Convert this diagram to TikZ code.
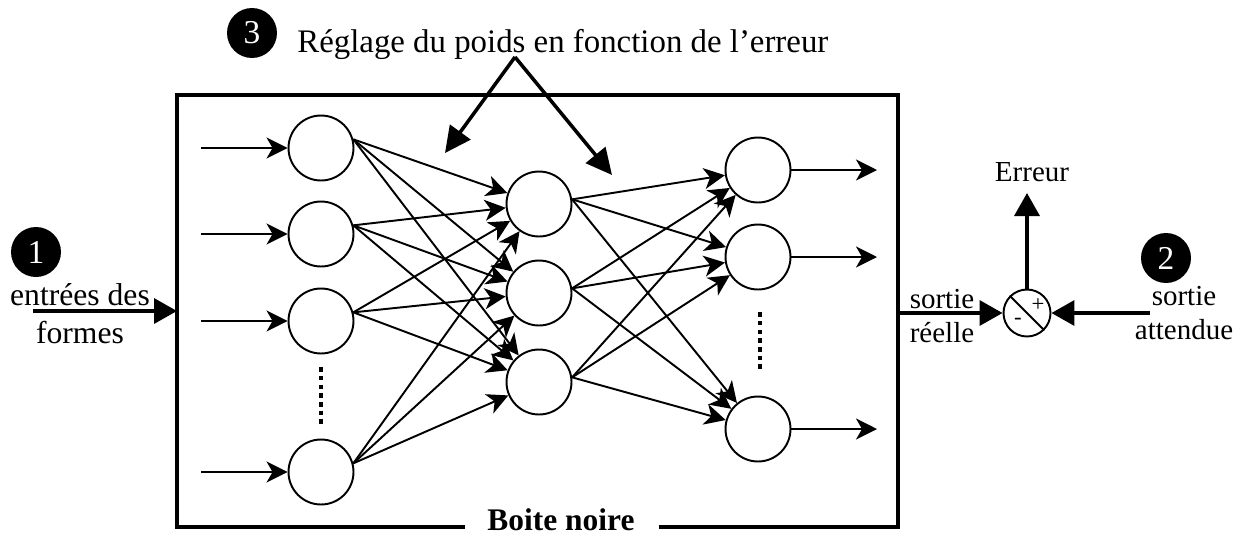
\documentclass[tikz,border=0pt]{standalone}
\usepackage{fontspec}
\setmainfont{Liberation Serif}
\usetikzlibrary{arrows.meta}

\begin{document}
\begin{tikzpicture}[x=0.02cm,y=-0.02cm,
	>={Stealth[length=0.42cm,width=0.42cm,inset=0.12cm]},
	neuron/.style={circle,draw,line width=1.1pt,minimum size=1.3cm,inner sep=0pt},
	fleche/.style={->,line width=1.1pt},
	grosse/.style={-{Triangle[length=0.46cm,width=0.5cm]},line width=2pt},
	puce/.style={circle,fill=black,text=white,minimum size=1cm,inner sep=0pt,font=\fontsize{19}{19}\selectfont},
	pointilles/.style={line width=0.08cm,dash pattern=on 0.09cm off 0.085cm},
	etiquette/.style={align=center,inner sep=0pt,font=\fontsize{16.5}{19}\selectfont}]
	\useasboundingbox (0,0) rectangle (1248,535);
	% boite noire
	\draw[line width=0.08cm] (465,527) -- (177,527) -- (177,95) -- (898,95) -- (898,527) -- (659,527);
	\node[anchor=base,inner sep=0pt,font=\bfseries\fontsize{17.9}{20}\selectfont] (bn) at (561,530) {Boite noire};
	% couche d'entree
	\foreach \n/\y in {1/148,2/234,3/321,4/472}{
		\node[neuron] (e\n) at (321,\y) {};
		\coordinate (x\n) at (201,\y);
		\draw[fleche] (x\n) -- (e\n);
	}
	\draw[pointilles] (321,367) -- (321,428);
	% couche cachee
	\foreach \n/\y in {1/204,2/293,3/382}
		\node[neuron] (c\n) at (539,\y) {};
	% couche de sortie
	\foreach \n/\y in {1/170,2/257,3/429}{
		\node[neuron] (s\n) at (758,\y) {};
		\coordinate (y\n) at (877,\y);
		\draw[fleche] (s\n) -- (y\n);
	}
	\draw[pointilles] (760,312) -- (760,373);
	% poids
	\foreach \i in {1,...,4}
		\foreach \j in {1,2,3}
			\draw[fleche] (e\i.15) -- (c\j);
	\foreach \i in {1,2,3}
		\foreach \j in {1,2,3}
			\draw[fleche] (c\i.8) -- (s\j);
	% comparateur
	\node[circle,draw,line width=1.1pt,minimum size=0.94cm,inner sep=0pt] (som) at (1027,313) {};
	\draw[line width=1.1pt] (som.north west) -- (som.south east);
	\node[inner sep=0pt,font=\fontsize{13}{13}\selectfont] (plus) at (1038,305) {+};
	\node[inner sep=0pt,font=\fontsize{13}{13}\selectfont] (moins) at (1018,321) {-};
	\coordinate (bd) at (898,313);
	\coordinate (err) at (1027,193);
	\coordinate (att) at (1150,313);
	\draw[grosse] (bd) -- (som);
	\draw[grosse] (som) -- (err);
	\draw[grosse] (att) -- (som);
	\node[etiquette] (erreur) at (1032,172) {Erreur};
	\node[etiquette] (reelle) at (942,316) {sortie\\réelle};
	\node[etiquette] (attendue) at (1184,313) {sortie\\attendue};
	% entree
	\coordinate (xe) at (33,311);
	\coordinate (bg) at (177,311);
	\draw[grosse] (xe) -- (bg);
	\node[align=center,inner sep=0pt,font=\fontsize{18}{21.5}\selectfont] (entrees) at (80,314) {entrées des\\formes};
	% numeros
	\node[puce] (p1) at (36,252) {1};
	\node[puce] (p2) at (1166,258) {2};
	\node[puce] (p3) at (252,33) {3};
	% reglage
	\node[anchor=base west,inner sep=0pt,font=\fontsize{18.7}{22}\selectfont] (reglage) at (297,52) {Réglage du poids en fonction de l’erreur};
	\coordinate (sommet) at (515,57);
	\coordinate (pg) at (445,153);
	\coordinate (pd) at (612,175);
	\draw[-{Triangle[length=0.52cm,width=0.5cm]},line width=2pt] (sommet) -- (pg);
	\draw[-{Triangle[length=0.52cm,width=0.5cm]},line width=2pt] (sommet) -- (pd);
\end{tikzpicture}
\end{document}
